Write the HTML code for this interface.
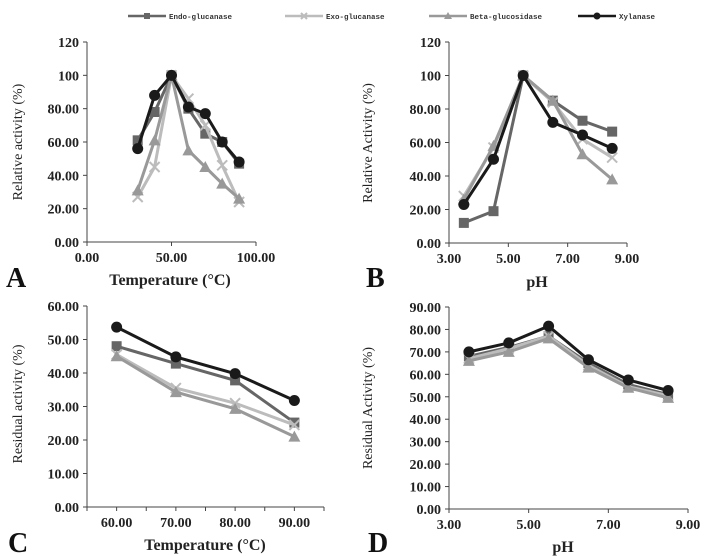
<!DOCTYPE html>
<html><head><meta charset="utf-8"><style>
html,body{margin:0;padding:0;background:#fff;width:716px;height:556px;overflow:hidden}
svg text{font-family:"Liberation Serif",serif}
.tk{font-size:14px;font-weight:bold;fill:#222}
.yt{font-size:14px;fill:#222}
.xt{font-size:16px;font-weight:bold;fill:#222}
.pl{font-size:28px;font-weight:bold;fill:#111}
.lg{font-size:7.5px;font-weight:bold;fill:#333;font-family:"Liberation Mono",monospace}
</style></head><body>
<svg id="c" width="716" height="556" xmlns="http://www.w3.org/2000/svg"></svg>
<script>
const seriesNames=["Endo-glucanase","Exo-glucanase","Beta-glucosidase","Xylanase"];
const aX=[30,40,50,60,70,80,90];
const aEndo=[61,78,100,80,65,60,47];
const aExo=[27,45,100,86,70,46,24];
const aBeta=[31,61,100,55,45,35,26];
const aXyl=[56,88,100,81,77,60,48];
const bX=[3.5,4.5,5.5,6.5,7.5,8.5];
const bEndo=[12,19,100,85,73,66.5];
const bExo=[28,57,100,84,62,51];
const bBeta=[26,58,100,85,53,38];
const bXyl=[23,50,100,72,64.5,56.5];
const cX=[60,70,80,90];
const cEndo=[48,42.8,37.8,25.2];
const cExo=[45.5,35.5,31,24.5];
const cBeta=[45,34.3,29.3,21];
const cXyl=[53.7,44.8,39.8,31.8];
const dX=[3.5,4.5,5.5,6.5,7.5,8.5];
const dEndo=[68,72,77,65,55.5,51];
const dExo=[67,71.5,77,64,54.5,50.5];
const dBeta=[66,70,76,63,54,49.5];
const dXyl=[70,74,81.5,66.5,57.5,52.8];
const aYTicks=["0.00","20.00","40.00","60.00","80.00","100","120"];
const aXTicks=["0.00","50.00","100.00"];
const bYTicks=["0.00","20.00","40.00","60.00","80.00","100","120"];
const bXTicks=["3.00","5.00","7.00","9.00"];
const cYTicks=["0.00","10.00","20.00","30.00","40.00","50.00","60.00"];
const cXTicks=["60.00","70.00","80.00","90.00"];
const dYTicks=["0.00","10.00","20.00","30.00","40.00","50.00","60.00","70.00","80.00","90.00"];
const dXTicks=["3.00","5.00","7.00","9.00"];

const NS="http://www.w3.org/2000/svg";
const svg=document.getElementById('c');
const colors=["#666","#bcbcbc","#999","#1a1a1a"];
const markers=["sq","x","tri","dot"];
function mk(tag,at,parent){const e=document.createElementNS(NS,tag);for(const k in at)e.setAttribute(k,at[k]);(parent||svg).appendChild(e);return e;}
function marker(g,t,x,y,c,s){
  let e;
  if(t==="sq")e=mk('rect',{x:x-s,y:y-s,width:2*s,height:2*s,fill:c},g);
  else if(t==="dot")e=mk('circle',{cx:x,cy:y,r:s+0.5,fill:c},g);
  else if(t==="tri")e=mk('polygon',{points:`${x},${y-s-1} ${x-s-1},${y+s} ${x+s+1},${y+s}`,fill:c},g);
  else e=mk('path',{d:`M${x-s} ${y-s}L${x+s} ${y+s}M${x-s} ${y+s}L${x+s} ${y-s}`,stroke:c,'stroke-width':2},g);
  
  
}
function panel(o){
  const g=mk('g',{});
  
  
  const sx=v=>o.x0+(v-o.xmin)/(o.xmax-o.xmin)*(o.x1-o.x0);
  const sy=v=>o.y0-(v-o.ymin)/(o.ymax-o.ymin)*(o.y0-o.y1);
  const ax=mk('path',{d:`M${o.x0} ${o.y1}V${o.y0}H${o.x1}`,stroke:'#444','stroke-width':1,fill:'none'},g);
  
  
  o.yt.forEach((t,i)=>{const v=o.ymin+i*(o.ymax-o.ymin)/(o.yt.length-1);const y=sy(v);
    mk('line',{x1:o.x0-4,x2:o.x0,y1:y,y2:y,stroke:'#444'},g);
    const e=mk('text',{x:o.x0-8,y:y+5,'text-anchor':'end',class:'tk'},g);e.textContent=t;
    
    });
  o.xt.forEach((t,i)=>{const v=o.xtv[i];const x=sx(v);
    mk('line',{x1:x,x2:x,y1:o.y0,y2:o.y0+4,stroke:'#444'},g);
    const e=mk('text',{x:x,y:o.y0+20,'text-anchor':'middle',class:'tk'},g);e.textContent=t;
    
    });
  if(o.extraTicks)o.extraTicks.forEach(v=>mk('line',{x1:sx(v),x2:sx(v),y1:o.y0,y2:o.y0+4,stroke:'#444'},g));
  o.series.forEach((s,k)=>{
    const d=s.map((v,i)=>(i?'L':'M')+sx(o.xs[i])+' '+sy(v)).join('');
    const l=mk('path',{d:d,stroke:colors[k],'stroke-width':3,fill:'none'},g);
    
    
    s.forEach((v,i)=>marker(g,markers[k],sx(o.xs[i]),sy(v),colors[k],5));
  });
  const yt=mk('text',{transform:`translate(${o.ytx},${o.yty}) rotate(-90)`,'text-anchor':'middle',class:'yt'},g);yt.textContent=o.ytitle;
  
  
  const xt=mk('text',{x:o.xtx,y:o.xty,'text-anchor':'middle',class:'xt'},g);xt.textContent=o.xtitle;
  
  
  const pl=mk('text',{x:o.plx,y:o.ply,class:'pl'},g);pl.textContent=o.label;
  
  
}
panel({name:'panel-a',x0:87,x1:256,y0:242,y1:42,xmin:0,xmax:100,ymin:0,ymax:120,yt:aYTicks,xt:aXTicks,xtv:[0,50,100],xs:aX,series:[aEndo,aExo,aBeta,aXyl],ytitle:'Relative activity (%)',ytx:22,yty:142,xtitle:'Temperature (°C)',xtx:170,xty:285,label:'A',plx:6,ply:287});
panel({name:'panel-b',x0:449,x1:627,y0:243,y1:42,xmin:3,xmax:9,ymin:0,ymax:120,yt:bYTicks,xt:bXTicks,xtv:[3,5,7,9],xs:bX,series:[bEndo,bExo,bBeta,bXyl],ytitle:'Relative Activity (%)',ytx:372,yty:143,xtitle:'pH',xtx:537,xty:287,label:'B',plx:366,ply:287});
panel({name:'panel-c',x0:87,x1:324,y0:507,y1:306,xmin:55,xmax:95,ymin:0,ymax:60,yt:cYTicks,xt:cXTicks,xtv:[60,70,80,90],xs:cX,series:[cEndo,cExo,cBeta,cXyl],extraTicks:[55,65,75,85,95],ytitle:'Residual activity (%)',ytx:22,yty:404,xtitle:'Temperature (°C)',xtx:205,xty:550,label:'C',plx:8,ply:552});
panel({name:'panel-d',x0:449,x1:688,y0:509,y1:307,xmin:3,xmax:9,ymin:0,ymax:90,yt:dYTicks,xt:dXTicks,xtv:[3,5,7,9],xs:dX,series:[dEndo,dExo,dBeta,dXyl],ytitle:'Residual Activity (%)',ytx:372,yty:408,xtitle:'pH',xtx:563,xty:552,label:'D',plx:368,ply:552});
const lx=[128,285,429,578];
seriesNames.forEach((n,k)=>{
  const g=mk('g',{});
  
  
  mk('line',{x1:lx[k],x2:lx[k]+38,y1:16,y2:16,stroke:colors[k],'stroke-width':2.5},g);
  marker(g,markers[k],lx[k]+19,16,colors[k],3);
  const t=mk('text',{x:lx[k]+41,y:19,class:'lg'},g);t.textContent=n;
});
</script>
</body></html>
